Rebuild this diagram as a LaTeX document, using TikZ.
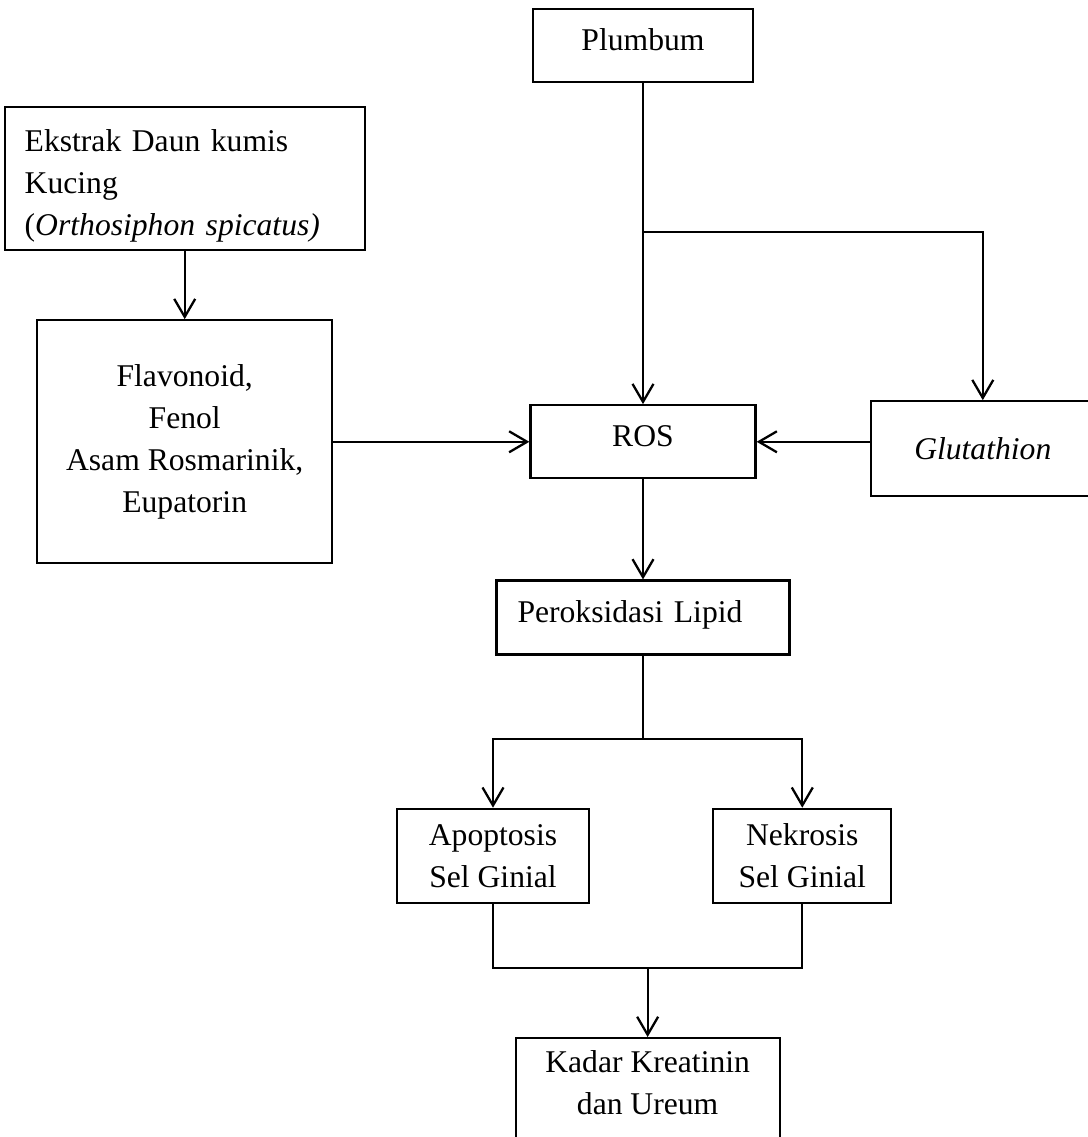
\documentclass[tikz,border=0pt]{standalone}
\usepackage{fontspec}
\setmainfont{Liberation Serif}
\usetikzlibrary{positioning,arrows.meta,calc}
\tikzset{
  box/.style={
    draw, line width=1.3pt,
    align=center, font=\fontsize{18}{24}\selectfont, inner sep=1.5mm
  },
  arrow/.style={-{Straight Barb[length=3.6mm,width=4.2mm]}, line width=1.3pt},
  link/.style={line width=1.3pt}
}

\begin{document}
\begin{tikzpicture}
  \useasboundingbox (0,0) rectangle (217.6mm,-227.4mm);
  \clip (0,0) rectangle (217.6mm,-227.4mm);

  \node[box, minimum width=44mm, minimum height=14.6mm, text depth=7pt] (plumbum) at (128.6mm,-9.1mm) {Plumbum};
  \node[box, minimum width=45mm, minimum height=14.6mm, text depth=7pt, below=64.2mm of plumbum] (ros) {ROS};
  \node[box, minimum width=44.8mm, minimum height=19mm, right=22.6mm of ros, yshift=-1.4mm] (glut) {\textit{Glutathion}};
  \node[box, minimum width=59mm, minimum height=48.6mm, left=39.2mm of ros] (flav)
       {Flavonoid,\\Fenol\\Asam Rosmarinik,\\Eupatorin};
  \node[box, minimum height=28.6mm, text width=64mm, align=left, inner xsep=4mm, text height=21pt, above=13.6mm of flav] (ekstrak)
       {Ekstrak Daun kumis\\Kucing\\(\textit{Orthosiphon spicatus)}};

  \node[box, minimum height=14.8mm, text width=50.2mm, align=left, inner xsep=4.2mm, text depth=7pt, below=20mm of ros] (perok) {Peroksidasi Lipid};
  \coordinate[below=16.6mm of perok] (split);

  \node[box, minimum width=38.4mm, minimum height=18.8mm, below=30.4mm of perok, xshift=-30mm] (apop) {Apoptosis\\Sel Ginial};
  \node[box, minimum width=35.6mm, minimum height=18.8mm, right=24.4mm of apop] (nekr) {Nekrosis\\Sel Ginial};
  \coordinate (join) at ($(apop.south)!0.5!(nekr.south)+(0,-12.8mm)$);
  \node[box, minimum width=52.8mm, text depth=40pt, inner ysep=2.4mm, below=13.8mm of join] (kadar) {Kadar Kreatinin\\dan Ureum};

  % Plumbum ke ROS dan Glutathion
  \coordinate[below=29.8mm of plumbum] (fork);
  \draw[arrow] (plumbum) -- (ros);
  \draw[arrow] (fork) -| (glut);

  \draw[arrow] (ekstrak) -- (flav);
  \draw[arrow] (flav) -- (ros);
  \draw[arrow] (glut.west |- ros) -- (ros);
  \draw[arrow] (ros) -- (perok);

  \draw[link] (perok) -- (split);
  \draw[arrow] (split) -| (apop);
  \draw[arrow] (split) -| (nekr);
  \draw[link] (apop) |- (join) -| (nekr);
  \draw[arrow] (join) -- (kadar);
\end{tikzpicture}
\end{document}
